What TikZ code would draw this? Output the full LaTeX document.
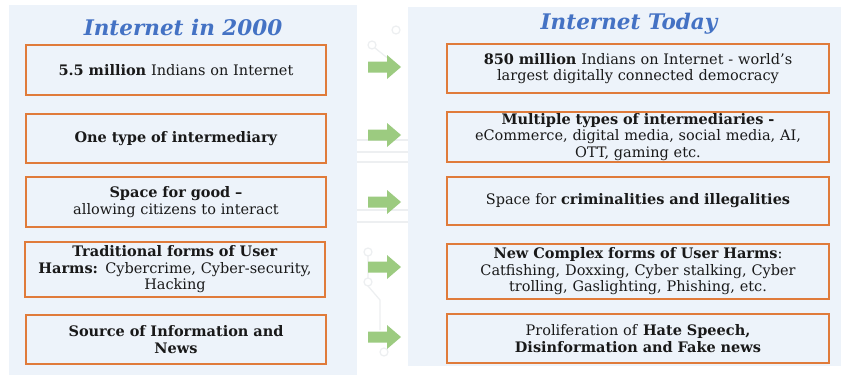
\documentclass[tikz,border=0pt]{standalone}
\usepackage{fontspec}
\setmainfont{DejaVu Serif}
\definecolor{panelbg}{HTML}{EDF3FA}
\definecolor{boxline}{HTML}{E07B3A}
\definecolor{titleblue}{HTML}{4472C4}
\definecolor{arrowgreen}{HTML}{9CCB80}
\definecolor{circuit}{HTML}{EDEFF1}
\tikzset{
  panel/.style={fill=panelbg, draw=none},
  titletext/.style={font=\fontsize{21.5}{24}\selectfont\bfseries\itshape, text=titleblue, inner sep=0pt},
  leftbox/.style={draw=boxline, line width=1.3pt, fill=panelbg, minimum width=300pt, text width=296pt, align=center, inner sep=0pt, font=\fontsize{14.5}{16.5}\selectfont, text=black!90},
  rightbox/.style={draw=boxline, line width=1.3pt, fill=panelbg, minimum width=382pt, text width=378pt, align=center, inner sep=0pt, font=\fontsize{14.5}{16.5}\selectfont, text=black!90},
  greenarrow/.style={fill=arrowgreen, draw=none},
  circ/.style={draw=circuit, line width=1.2pt}
}
\newcommand{\greenarr}[2]{%
  \fill[greenarrow] (#1,#2-5.5) -- (#1+19,#2-5.5) -- (#1+19,#2-12) -- (#1+33,#2) -- (#1+19,#2+12) -- (#1+19,#2+5.5) -- (#1,#2+5.5) -- cycle;}
\begin{document}
\begin{tikzpicture}[x=1pt,y=-1pt]
\useasboundingbox (0,0) rectangle (844,375);
\fill[white] (0,0) rectangle (844,375);
% faint circuit background between panels
\draw[circ] (357,140) -- (408,140) (357,152) -- (408,152) (357,162) -- (408,162);
\draw[circ] (357,210) -- (408,210) (357,222) -- (408,222);
\draw[circ] (372,45) circle (4pt) (396,30) circle (4pt) (368,252) circle (4pt) (368,282) circle (4pt) (384,352) circle (4pt);
\draw[circ] (375,48) -- (390,60) (368,256) -- (368,278) (368,286) -- (380,300) -- (380,330);
% panels
\fill[panel] (9,5) rectangle (357,375);
\fill[panel] (408,7) rectangle (841,366);
% titles
\node[titletext] (t1) at (183,27) {Internet in 2000};
\node[titletext] (t2) at (629,24) {Internet Today};
% left boxes
\node[leftbox, minimum height=50pt] (l1) at (176,70) {\textbf{5.5 million} Indians on Internet};
\node[leftbox, minimum height=49pt] (l2) at (176,138.5) {\textbf{One type of intermediary}};
\node[leftbox, minimum height=50pt] (l3) at (176,202) {\textbf{Space for good –}\\allowing citizens to interact};
\node[leftbox, minimum height=55pt] (l4) at (175,269.5) {\textbf{Traditional forms of User}\\\textbf{Harms:} Cybercrime, Cyber-security,\\Hacking};
\node[leftbox, minimum height=49pt] (l5) at (176,339.5) {\textbf{Source of Information and}\\\textbf{News}};
% right boxes
\node[rightbox, minimum height=49pt] (r1) at (638,68.5) {\textbf{850 million} Indians on Internet - world’s\\largest digitally connected democracy};
\node[rightbox, minimum height=50pt] (r2) at (638,137) {\textbf{Multiple types of intermediaries -}\\eCommerce, digital media, social media, AI,\\OTT, gaming etc.};
\node[rightbox, minimum height=48pt] (r3) at (638,201) {Space for \textbf{criminalities and illegalities}};
\node[rightbox, minimum height=55pt] (r4) at (638,271.5) {\textbf{New Complex forms of User Harms}:\\Catfishing, Doxxing, Cyber stalking, Cyber\\trolling, Gaslighting, Phishing, etc.};
\node[rightbox, minimum height=49pt] (r5) at (638,338.5) {Proliferation of \textbf{Hate Speech,}\\\textbf{Disinformation and Fake news}};
% arrows
\greenarr{368}{67}
\greenarr{368}{135}
\greenarr{368}{202}
\greenarr{368}{267}
\greenarr{368}{337}
\end{tikzpicture}
\end{document}
